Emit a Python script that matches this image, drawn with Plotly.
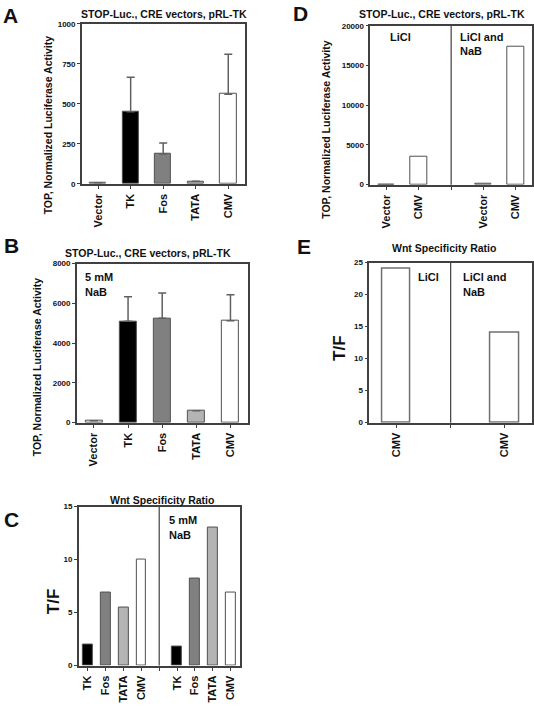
import plotly.graph_objects as go

W, H = 534, 710

# ---------------- data ----------------
cats_ab = ["Vector", "TK", "Fos", "TATA", "CMV"]
colors_ab = ["#ffffff", "#000000", "#808080", "#b4b4b4", "#ffffff"]

a_values = [6, 450, 185, 15, 560]
a_err_upper = [0, 215, 70, 0, 250]
a_ticks = [0, 250, 500, 750, 1000]

b_values = [100, 5100, 5250, 600, 5130]
b_err_upper = [0, 1230, 1280, 0, 1300]
b_ticks = [0, 2000, 4000, 6000, 8000]

c_cats = ["TK", "Fos", "TATA", "CMV"]
c_colors = ["#000000", "#808080", "#b4b4b4", "#ffffff"]
c_control = [2.0, 6.9, 5.5, 10.0]
c_nab = [1.8, 8.2, 13.0, 6.9]
c_ticks = [0, 5, 10, 15]

d_cats = ["Vector", "CMV"]
d_licl = [0, 3500]
d_licl_nab = [100, 17400]
d_ticks = [0, 5000, 10000, 15000, 20000]

e_cats = ["CMV"]
e_licl = [24]
e_licl_nab = [14]
e_ticks = [0, 5, 10, 15, 20, 25]

FONT = "Liberation Sans, Arial, sans-serif"
AX = "#404040"
OUT = "#505050"

fig = go.Figure()


def px_x(p):
    return p / W


def px_y(p):
    return 1 - p / H


def b(s):
    return "<b>%s</b>" % s if s else ""


# ---- A ----
fig.add_trace(go.Bar(
    x=list(range(len(cats_ab))), y=a_values, width=0.5,
    marker=dict(color=colors_ab, line=dict(color=OUT, width=1)),
    error_y=dict(type="data", symmetric=False, array=a_err_upper,
                 arrayminus=[0] * 5, color="#606060", thickness=1.5, width=4),
    xaxis="x", yaxis="y", showlegend=False))

# ---- B ----
fig.add_trace(go.Bar(
    x=list(range(len(cats_ab))), y=b_values, width=0.5,
    marker=dict(color=colors_ab, line=dict(color=OUT, width=1)),
    error_y=dict(type="data", symmetric=False, array=b_err_upper,
                 arrayminus=[0] * 5, color="#606060", thickness=1.5, width=4),
    xaxis="x2", yaxis="y2", showlegend=False))

# ---- C ----
c_x = [0, 1, 2, 3, 5, 6, 7, 8]
fig.add_trace(go.Bar(
    x=c_x, y=c_control + c_nab, width=0.55,
    marker=dict(color=c_colors + c_colors, line=dict(color=OUT, width=1)),
    xaxis="x3", yaxis="y3", showlegend=False))

# ---- D ----
fig.add_trace(go.Bar(
    x=[0, 1, 3, 4], y=d_licl + d_licl_nab, width=0.5,
    marker=dict(color="#ffffff", line=dict(color=OUT, width=1)),
    xaxis="x4", yaxis="y4", showlegend=False))

# ---- E ----
fig.add_trace(go.Bar(
    x=[0, 2], y=e_licl + e_licl_nab, width=0.52,
    marker=dict(color="#ffffff", line=dict(color="#707070", width=1.5)),
    xaxis="x5", yaxis="y5", showlegend=False))


def xax(domain, tickvals, ticktext, rng, anchor):
    return dict(domain=domain, anchor=anchor, range=rng, tickmode="array",
                tickvals=tickvals, ticktext=[b(t) for t in ticktext], tickangle=-90,
                showline=True, linecolor=AX, linewidth=1.5, mirror=True,
                ticks="outside", ticklen=4, tickcolor=AX, tickwidth=1.2,
                showgrid=False, zeroline=False,
                tickfont=dict(family=FONT, size=11, color="#111"))


def yax(domain, rng, ticks, anchor):
    return dict(domain=domain, anchor=anchor, range=rng, tickmode="array",
                tickvals=ticks, ticktext=[b(str(t)) for t in ticks],
                showline=True, linecolor=AX, linewidth=1.5, mirror=True,
                ticks="outside", ticklen=3, tickcolor=AX, tickwidth=1.2,
                showgrid=False, zeroline=False,
                tickfont=dict(family=FONT, size=8, color="#111"))


layout = dict(
    width=W, height=H, margin=dict(l=0, r=0, t=0, b=0),
    paper_bgcolor="white", plot_bgcolor="white",
    font=dict(family=FONT, color="#111"), bargap=0,
    xaxis=xax([px_x(82), px_x(245)], list(range(5)), cats_ab, [-0.5, 4.5], "y"),
    yaxis=yax([px_y(182), px_y(20)], [0, 1000], a_ticks, "x"),
    xaxis2=xax([px_x(77), px_x(248)], list(range(5)), cats_ab, [-0.5, 4.5], "y2"),
    yaxis2=yax([px_y(424), px_y(263)], [0, 8000], b_ticks, "x2"),
    xaxis3=xax([px_x(79), px_x(240)], list(range(9)), c_cats + [""] + c_cats, [-0.5, 8.5], "y3"),
    yaxis3=yax([px_y(670), px_y(509)], [0, 15], c_ticks, "x3"),
    xaxis4=xax([px_x(371), px_x(533)], list(range(5)), d_cats + [""] + d_cats, [-0.5, 4.5], "y4"),
    yaxis4=yax([px_y(183), px_y(22)], [0, 20000], d_ticks, "x4"),
    xaxis5=xax([px_x(370), px_x(533)], [0, 1, 2], e_cats + [""] + e_cats, [-0.5, 2.5], "y5"),
    yaxis5=yax([px_y(424), px_y(262)], [0, 25], e_ticks, "x5"),
)
fig.update_layout(**layout)

# divider lines
for xr, yr, xv in [("x3", "y3", 4), ("x4", "y4", 2), ("x5", "y5", 1)]:
    fig.add_shape(type="line", xref=xr, yref=yr + " domain", x0=xv, x1=xv, y0=0, y1=1,
                  line=dict(color=AX, width=1.2))


def text(x, y, s, size=10, xanchor="center", yanchor="middle", angle=0):
    fig.add_annotation(xref="paper", yref="paper", x=px_x(x), y=px_y(y), text=b(s),
                       showarrow=False, xanchor=xanchor, yanchor=yanchor, textangle=angle,
                       font=dict(family=FONT, size=size, color="#111"))


# panel letters
text(1, 12, "A", 21, xanchor="left")
text(2, 245, "B", 21, xanchor="left")
text(2, 522, "C", 21, xanchor="left")
text(292, 10, "D", 21, xanchor="left")
text(296, 246, "E", 21, xanchor="left")

# titles
title_ab = "STOP-Luc., CRE vectors, pRL-TK"
title_ratio = "Wnt Specificity Ratio"
text(164, 10, title_ab, 10.5)
text(148, 252, title_ab, 10.5)
text(162, 502, title_ratio, 10.5)
text(443, 10, title_ab, 10.5)
text(445, 247, title_ratio, 10.5)

# y axis titles
ytitle = "TOP, Normalized Luciferase Activity"
text(49, 122, ytitle, 10.5, angle=-90)
text(37, 367, ytitle, 10.5, angle=-90)
text(327, 127, ytitle, 10.5, angle=-90)
text(53, 605, "T/F", 17, angle=-90)
text(340, 348, "T/F", 17, angle=-90)

# in-plot labels
text(83, 277, "5 mM", 11, xanchor="left")
text(83, 292, "NaB", 11, xanchor="left")
text(167, 523, "5 mM", 11, xanchor="left")
text(167, 538, "NaB", 11, xanchor="left")
text(389, 33, "LiCl", 11, xanchor="left")
text(459, 33, "LiCl and", 11, xanchor="left")
text(459, 48, "NaB", 11, xanchor="left")
text(417, 277, "LiCl", 11, xanchor="left")
text(462, 277, "LiCl and", 11, xanchor="left")
text(462, 292, "NaB", 11, xanchor="left")

fig.write_html("out.html", config={"displayModeBar": False},
               post_script="document.body.style.margin='0';document.body.style.overflow='hidden';")
